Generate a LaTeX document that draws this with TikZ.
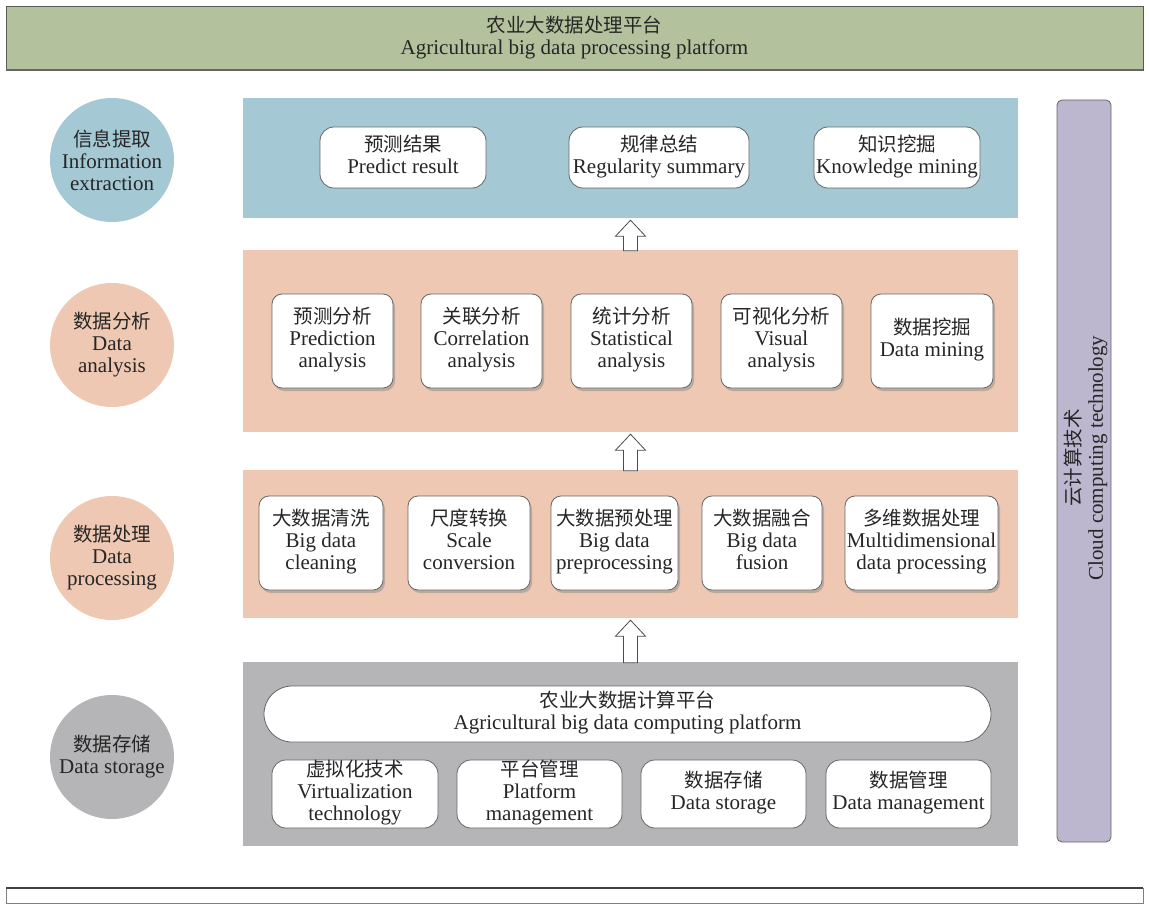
\documentclass[tikz,border=0pt]{standalone}
\usepackage{fontspec}
\setmainfont{Liberation Serif}
\newfontfamily\cjk{Noto Sans CJK SC}
\usetikzlibrary{positioning,shadows,calc}
\definecolor{bannergreen}{RGB}{179,194,157}
\definecolor{infoblue}{RGB}{164,200,212}
\definecolor{salmon}{RGB}{238,200,178}
\definecolor{stonegray}{RGB}{181,181,183}
\definecolor{cloudpurple}{RGB}{188,182,206}
\newcommand{\zh}[1]{{\cjk\fontsize{19.5}{22}\selectfont #1}}
\newcommand{\hollowup}[2]{%
  \draw[blockarrow] ([xshift=-7pt,yshift=-1pt]#1.north) -- ([xshift=-7pt,yshift=-18pt]#2.south)
    -- ([xshift=-15pt,yshift=-18pt]#2.south) -- ([yshift=-2pt]#2.south)
    -- ([xshift=15pt,yshift=-18pt]#2.south) -- ([xshift=7pt,yshift=-18pt]#2.south)
    -- ([xshift=7pt,yshift=-1pt]#1.north) -- cycle;}
\begin{document}
\begin{tikzpicture}[x=1pt,y=-1pt,
    every node/.style={font=\fontsize{21}{22}\selectfont,text=black!85,align=center},
    panel/.style={rectangle,minimum width=775pt,inner sep=0pt},
    layer/.style={circle,minimum size=124pt,inner sep=0pt},
    itembox/.style={rectangle,rounded corners=14pt,draw=black!60,fill=white,inner sep=0pt,line width=0.8pt,
        execute at begin node=\strut,execute at end node=\strut},
    shadebox/.style={itembox,rounded corners=10pt,minimum height=94pt,
        drop shadow={shadow xshift=2pt,shadow yshift=-3pt,fill=black!45}},
    blockarrow/.style={draw=black!70,fill=white,line width=0.8pt,line join=miter}]
  \useasboundingbox (0,0) rectangle (1149,904);

  \node[rectangle,fill=bannergreen,draw=black!65,minimum width=1137pt,minimum height=64pt] (banner) at (574.5,38)
    {\zh{农业大数据处理平台}\\Agricultural big data processing platform};
  \draw[black!60,line width=2pt] (banner.south west) -- (banner.south east);

  \node[panel,fill=infoblue,minimum height=120pt] (info) at (630.5,158) {};
  \node[panel,fill=salmon,minimum height=182pt] (ana) at (630.5,341) {};
  \node[panel,fill=salmon,minimum height=148pt] (proc) at (630.5,544) {};
  \node[panel,fill=stonegray,minimum height=184pt] (store) at (630.5,754) {};

  \node[layer,fill=infoblue] (infocirc) at (112,160) {\zh{信息提取}\\Information\\extraction};
  \node[layer,fill=salmon] (anacirc) at (112,345) {\zh{数据分析}\\Data\\analysis};
  \node[layer,fill=salmon] (proccirc) at (112,558) {\zh{数据处理}\\Data\\processing};
  \node[layer,fill=stonegray] (storecirc) at (112,757) {\zh{数据存储}\\Data storage};

  \node[itembox,minimum width=166pt,minimum height=61pt] (result) at (403,157.5) {\zh{预测结果}\\Predict result};
  \node[itembox,minimum width=180pt,minimum height=61pt] (summary) at (659,157.5) {\zh{规律总结}\\Regularity summary};
  \node[itembox,minimum width=166pt,minimum height=61pt] (knowledge) at (897,157.5) {\zh{知识挖掘}\\Knowledge mining};

  \node[shadebox,minimum width=121pt] (predana) at (332.5,341) {\zh{预测分析}\\Prediction\\analysis};
  \node[shadebox,minimum width=121pt] (corrana) at (481.5,341) {\zh{关联分析}\\Correlation\\analysis};
  \node[shadebox,minimum width=121pt] (statana) at (631.5,341) {\zh{统计分析}\\Statistical\\analysis};
  \node[shadebox,minimum width=121pt] (visana) at (781.5,341) {\zh{可视化分析}\\Visual\\analysis};
  \node[shadebox,minimum width=122pt] (mining) at (932,341) {\zh{数据挖掘}\\Data mining};

  \node[shadebox,minimum width=124pt] (cleaning) at (321,543) {\zh{大数据清洗}\\Big data\\cleaning};
  \node[shadebox,minimum width=122pt] (scale) at (469,543) {\zh{尺度转换}\\Scale\\conversion};
  \node[shadebox,minimum width=127pt] (preproc) at (614.5,543) {\zh{大数据预处理}\\Big data\\preprocessing};
  \node[shadebox,minimum width=120pt] (fusion) at (762,543) {\zh{大数据融合}\\Big data\\fusion};
  \node[shadebox,minimum width=153pt] (multidim) at (921.5,543) {\zh{多维数据处理}\\Multidimensional\\data processing};

  \node[itembox,rounded corners=28pt,minimum width=727pt,minimum height=56pt] (compplat) at (627.5,714)
    {\zh{农业大数据计算平台}\\Agricultural big data computing platform};
  \node[itembox,minimum width=166pt,minimum height=68pt] (virtual) at (355,794) {\zh{虚拟化技术}\\Virtualization\\technology};
  \node[itembox,minimum width=165pt,minimum height=68pt] (platman) at (539.5,794) {\zh{平台管理}\\Platform\\management};
  \node[itembox,minimum width=165pt,minimum height=68pt] (datastore) at (723.5,794) {\zh{数据存储}\\Data storage};
  \node[itembox,minimum width=165pt,minimum height=68pt] (dataman) at (908.5,794) {\zh{数据管理}\\Data management};

  \hollowup{ana}{info}
  \hollowup{proc}{ana}
  \hollowup{store}{proc}

  \node[rectangle,rounded corners=5pt,fill=cloudpurple,draw=black!60,line width=0.8pt,
    minimum width=54pt,minimum height=742pt] (cloud) at (1084,471) {};
  \node[rotate=90] (cloudtext) at (1086,458) {\zh{云计算技术}\\Cloud computing technology};

  \node[rectangle,draw=black!50,fill=white,minimum width=1137pt,minimum height=15pt] (foot) at (574.5,895.5) {};
  \draw[black!75,line width=1.5pt] (foot.north west) -- (foot.north east);
\end{tikzpicture}
\end{document}
